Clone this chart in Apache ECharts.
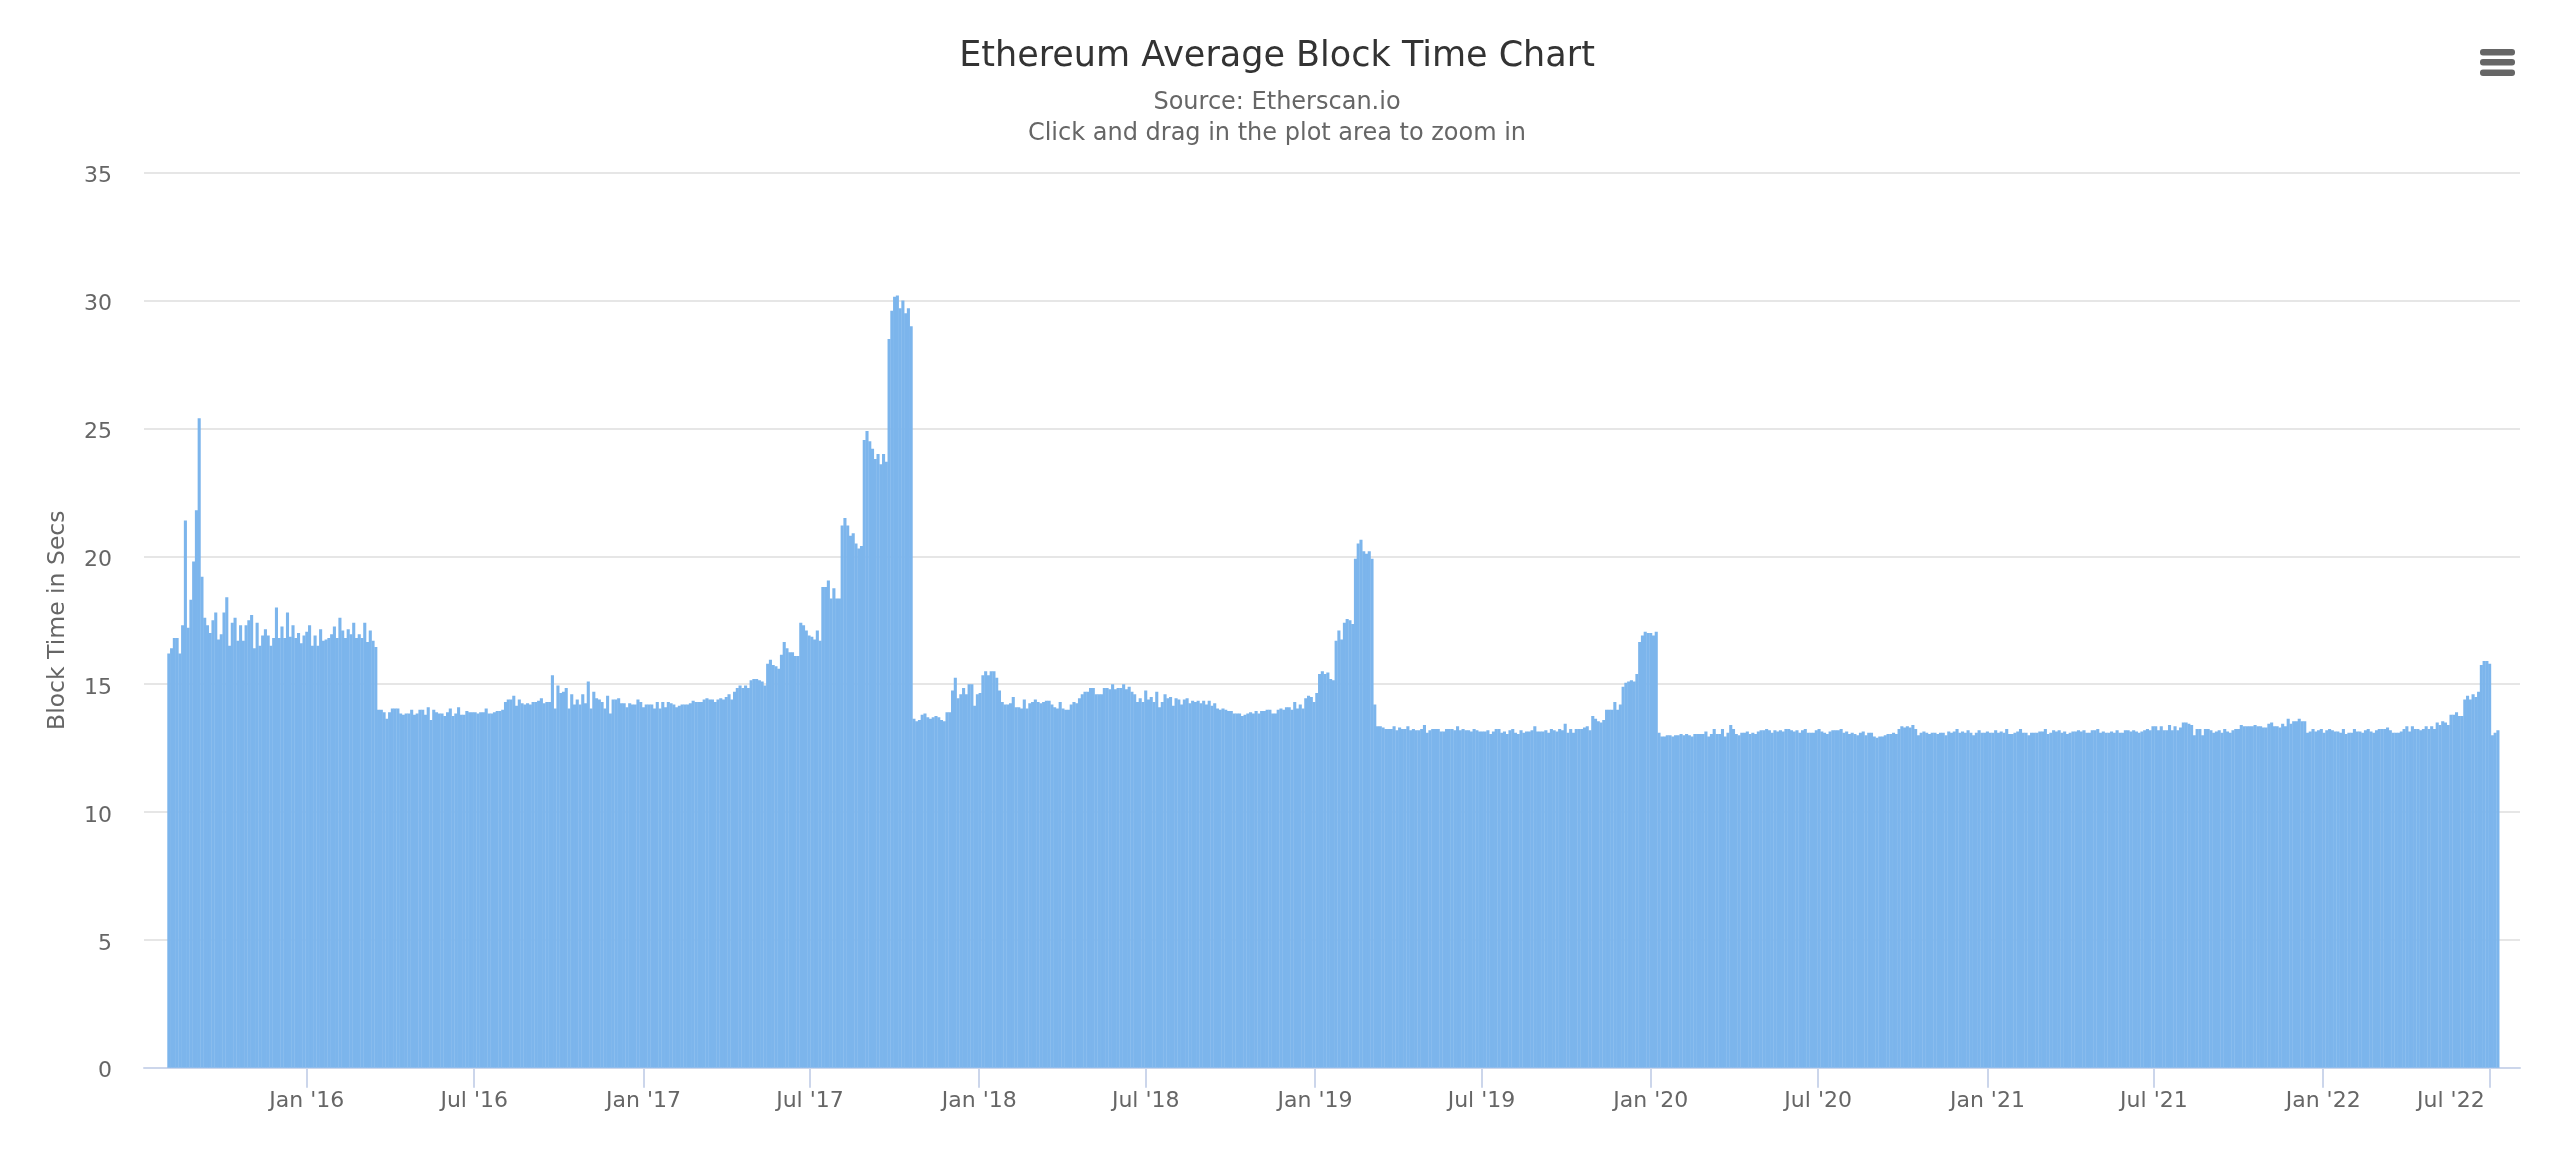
<!DOCTYPE html>
<html lang="en">

<head>
    <meta charset="UTF-8" />
    <title>Ethereum Average Block Time Chart</title>
    <script src="https://cdn.jsdelivr.net/npm/echarts@6/dist/echarts.min.js"></script>
    <style>
        body { margin: 0; background: #fff; }
    </style>
</head>

<body>
    <div id="main" style="width: 2560px; height: 1174px;"></div>

    <script>
        // block time in secs, one value every 3 days from launch
        const launch2015 = [
            16.2, 16.4, 16.8, 16.8, 16.2, 17.3, 21.4, 17.2, 18.3, 19.8, 21.8, 25.4, 19.2, 17.6,
            17.3, 17.0, 17.5, 17.8, 16.75, 16.95, 17.8, 18.4, 16.5, 17.4, 17.6, 16.7, 17.3, 16.7, 17.3, 17.5,
            17.7, 16.4, 17.4, 16.5, 16.9, 17.15, 16.9, 16.5, 16.8, 18.0, 16.8, 17.25, 16.8, 17.8, 16.85,
            17.3, 16.8, 17.0, 16.6, 16.9, 17.05, 17.3, 16.5, 16.9, 16.5, 17.15, 16.7, 16.75, 16.8, 16.95,
            17.25, 16.8, 17.6, 17.1, 16.8, 17.15, 16.95, 17.4, 16.8, 16.95, 16.8, 17.4, 16.65, 17.1, 16.7, 16.45
        ];
        const plateau2016 = [
            14.0, 14.0, 13.9, 13.65, 13.9, 14.05, 14.05, 14.05, 13.85, 13.8, 13.85, 13.85, 14.0, 13.8, 13.85,
            14.0, 14.0, 13.8, 14.1, 13.6, 14.0, 13.9, 13.85, 13.85, 13.75, 13.9, 14.05, 13.75, 13.85, 14.1,
            13.8, 13.8, 13.95, 13.9, 13.9, 13.9, 13.85, 13.9, 13.9, 14.05, 13.85, 13.85, 13.9, 13.95, 13.95, 14.0, 14.3,
            14.4, 14.4, 14.55, 14.15, 14.4, 14.25, 14.2, 14.25, 14.2, 14.3, 14.3, 14.35, 14.45, 14.25, 14.3,
            14.3, 15.35, 14.05, 14.95, 14.65, 14.7, 14.85, 14.05, 14.6, 14.2, 14.4, 14.2, 14.6, 14.25, 15.1,
            14.05, 14.7, 14.45, 14.4, 14.3, 14.05, 14.55, 13.85, 14.4, 14.4, 14.45, 14.25, 14.25, 14.1, 14.25,
            14.2, 14.2, 14.4, 14.3, 14.1, 14.2, 14.2, 14.2, 14.05, 14.3, 14.05, 14.3, 14.1, 14.3, 14.25,
            14.2, 14.1, 14.15, 14.2, 14.2, 14.2, 14.25, 14.35, 14.3, 14.3, 14.3, 14.4, 14.45, 14.4, 14.4, 14.3,
            14.4, 14.45, 14.4, 14.5, 14.6, 14.4, 14.7, 14.85, 14.95, 14.85, 14.95, 14.85, 15.15, 15.2, 15.2,
            15.15, 15.1, 14.95, 15.8, 15.95, 15.75, 15.7, 15.6, 16.15, 16.65, 16.4, 16.25, 16.25, 16.1, 16.1,
            17.4, 17.3, 17.1, 16.9, 16.85, 16.75, 17.1, 16.7
        ];
        const iceAge2017 = [
            18.8, 18.8, 19.05, 18.35, 18.75, 18.35, 18.35,
            21.2, 21.5, 21.2, 20.8, 20.9, 20.5, 20.3, 20.4,
            24.55, 24.9, 24.5, 24.2, 23.8, 24.0, 23.6, 24.0, 23.7,
            28.5, 29.6, 30.15, 30.2, 29.7, 30.0, 29.5, 29.7, 29.0
        ];
        const afterByzantium = [
            13.65, 13.55, 13.6, 13.8, 13.85, 13.7, 13.65, 13.7, 13.75,
            13.7, 13.6, 13.55, 13.9, 13.9, 14.75, 15.25, 14.45, 14.6,
            14.85, 14.6, 15.0, 15.0, 14.15, 14.6, 14.65, 15.35, 15.5, 15.35,
            15.5, 15.5, 15.25, 14.75, 14.3, 14.2, 14.2, 14.25, 14.5, 14.1,
            14.1, 14.05, 14.4, 14.05, 14.25, 14.3, 14.4, 14.3, 14.25,
            14.3, 14.35, 14.35, 14.2, 14.1, 14.05, 14.3, 14.05, 14.0,
            14.0, 14.2, 14.3, 14.25, 14.45, 14.6, 14.7, 14.7, 14.85, 14.85,
            14.6, 14.6, 14.6, 14.85, 14.85, 14.8, 15.0, 14.8, 14.85, 14.85,
            15.0, 14.8, 14.9, 14.7, 14.6, 14.3, 14.45, 14.3, 14.75, 14.4,
            14.5, 14.3, 14.7, 14.1, 14.3, 14.6, 14.45, 14.5, 14.15,
            14.45, 14.4, 14.2, 14.4, 14.45, 14.25, 14.35, 14.3, 14.35, 14.25, 14.35,
            14.2, 14.35, 14.15, 14.25, 14.05, 14.0, 14.05, 14.0, 13.95,
            13.95, 13.85, 13.85, 13.85, 13.75, 13.8, 13.85, 13.9, 13.85,
            13.95, 13.85, 13.95, 13.95, 14.0, 14.0, 13.85, 13.85, 14.0, 14.05,
            14.0, 14.1, 14.1, 14.0, 14.3, 14.05, 14.2, 14.05
        ];
        const rampEarly2019 = [
            14.45, 14.55, 14.5, 14.3, 14.65, 15.4, 15.5, 15.4, 15.45, 15.2, 15.15,
            16.7, 17.1, 16.75, 17.4, 17.55, 17.5, 17.35,
            19.9, 20.5, 20.65, 20.2, 20.1, 20.2, 19.9
        ];
        const afterConstantinople = [
            14.2, 13.35, 13.35, 13.3, 13.25, 13.25, 13.25, 13.35, 13.2, 13.3, 13.25, 13.25, 13.35, 13.2, 13.25,
            13.2, 13.2, 13.25, 13.4, 13.1, 13.2, 13.25, 13.25, 13.25, 13.15, 13.15, 13.25, 13.25, 13.25, 13.2,
            13.35, 13.2, 13.25, 13.2, 13.2, 13.15, 13.25, 13.2, 13.15, 13.15, 13.15, 13.2, 13.05, 13.15, 13.25,
            13.25, 13.1, 13.15, 13.05, 13.2, 13.25, 13.1, 13.05, 13.2, 13.1, 13.15, 13.15, 13.2, 13.35, 13.15,
            13.15, 13.15, 13.2, 13.1, 13.25, 13.2, 13.15, 13.25, 13.2, 13.45, 13.1, 13.25, 13.1, 13.25, 13.25,
            13.25, 13.3, 13.35, 13.2
        ];
        const rampLate2019 = [
            13.75, 13.65, 13.55, 13.5, 13.6, 14.0, 14.0, 14.0, 14.3, 14.0, 14.2, 14.9, 15.05, 15.1, 15.15, 15.1,
            15.4, 16.65, 16.9, 17.05, 17.0, 17.0, 16.9, 17.05
        ];
        const year2020 = [
            13.1, 12.95, 12.95, 13.0, 13.0, 12.95, 13.0, 13.0, 13.05, 13.0, 13.05, 13.0, 12.95, 13.05, 13.05, 13.05,
            13.05, 13.15, 12.95, 13.05, 13.25, 13.05, 13.05, 13.25, 12.95, 13.1, 13.4, 13.25, 13.05, 13.0, 13.1,
            13.1, 13.15, 13.05, 13.1, 13.05, 13.15, 13.2, 13.2, 13.25, 13.2, 13.1, 13.2, 13.15, 13.2, 13.15,
            13.25, 13.25, 13.2, 13.15, 13.2, 13.1, 13.2, 13.25, 13.1, 13.1, 13.1, 13.2, 13.25, 13.15, 13.1,
            13.05, 13.15, 13.2, 13.2, 13.2, 13.25, 13.1, 13.15, 13.05, 13.1, 13.05, 13.0, 13.1, 13.15, 13.0,
            13.1, 13.1, 12.95, 12.9, 12.95, 12.95, 13.0, 13.05, 13.05, 13.1, 13.05, 13.25, 13.35, 13.3, 13.35,
            13.3, 13.4, 13.25, 13.0, 13.1, 13.15, 13.1, 13.05, 13.1, 13.1, 13.05, 13.1, 13.1, 13.0, 13.15,
            13.1, 13.15, 13.25, 13.1, 13.15, 13.1, 13.2, 13.1, 13.0, 13.1, 13.2, 13.1, 13.1, 13.15, 13.1,
            13.1, 13.2, 13.1, 13.15, 13.1, 13.25, 13.05, 13.05, 13.1, 13.15, 13.25
        ];
        const year2021 = [
            13.1, 13.1, 13.0, 13.1, 13.1, 13.1, 13.15, 13.15, 13.25, 13.05, 13.1, 13.2, 13.15, 13.2, 13.1,
            13.15, 13.05, 13.1, 13.15, 13.15, 13.2, 13.15, 13.2, 13.1, 13.1, 13.2, 13.2, 13.25, 13.1, 13.15, 13.1, 13.1, 13.15,
            13.1, 13.2, 13.1, 13.1, 13.2, 13.2, 13.15, 13.2, 13.15, 13.1, 13.15, 13.2, 13.25, 13.2, 13.35,
            13.35, 13.2, 13.35, 13.2, 13.2, 13.4, 13.2, 13.35, 13.2, 13.3, 13.5, 13.5, 13.45, 13.4, 13.0,
            13.25, 13.25, 13.0, 13.25, 13.25, 13.2, 13.1, 13.15, 13.2, 13.1, 13.25, 13.15, 13.1, 13.2, 13.25,
            13.25, 13.4, 13.35, 13.35, 13.35, 13.35, 13.4, 13.35, 13.35, 13.3, 13.3, 13.45, 13.5, 13.35, 13.35, 13.3,
            13.45, 13.35, 13.65, 13.45, 13.55, 13.55, 13.65, 13.55, 13.55, 13.1, 13.15, 13.25, 13.15, 13.2, 13.25,
            13.1, 13.2, 13.25, 13.2, 13.15, 13.15, 13.1
        ];
        const year2022 = [
            13.25, 13.05, 13.1, 13.1, 13.25, 13.15, 13.15, 13.1, 13.2, 13.25, 13.15, 13.1, 13.2,
            13.25, 13.25, 13.25, 13.3, 13.2, 13.1, 13.1, 13.1, 13.15, 13.25, 13.35, 13.15, 13.35, 13.25, 13.25,
            13.2, 13.25, 13.35, 13.25, 13.35, 13.25, 13.5, 13.4, 13.55, 13.5, 13.4, 13.8, 13.8, 13.9, 13.75,
            13.75, 14.4, 14.55, 14.4, 14.6, 14.5, 14.7, 15.75, 15.9, 15.9, 15.8, 13.0, 13.1, 13.2
        ];

        const tickDates = [
            '2016-01-01', '2016-07-01', '2017-01-01', '2017-07-01', '2018-01-01', '2018-07-01', '2019-01-01',
            '2019-07-01', '2020-01-01', '2020-07-01', '2021-01-01', '2021-07-01', '2022-01-01', '2022-07-01'
        ];
        const tickLabels = [
            "Jan '16", "Jul '16", "Jan '17", "Jul '17", "Jan '18", "Jul '18", "Jan '19",
            "Jul '19", "Jan '20", "Jul '20", "Jan '21", "Jul '21", "Jan '22", "Jul '22"
        ];

        const DAY = 86400000;
        const firstDay = Date.parse('2015-08-04');
        const blockTimes = [].concat(launch2015, plateau2016, iceAge2017, afterByzantium, rampEarly2019,
            afterConstantinople, rampLate2019, year2020, year2021, year2022);
        const tickValues = tickDates.map(d => Date.parse(d));
        const font = '"DejaVu Sans", sans-serif';

        const myChart = echarts.init(document.getElementById("main"));
        myChart.setOption({
            animation: false,
            backgroundColor: '#ffffff',
            title: {
                text: 'Ethereum Average Block Time Chart',
                subtext: 'Source: Etherscan.io\nClick and drag in the plot area to zoom in',
                left: 1272,
                top: 34,
                textAlign: 'center',
                itemGap: 13,
                textStyle: { color: '#333333', fontFamily: font, fontWeight: 'normal', fontSize: 35 },
                subtextStyle: { color: '#666666', fontFamily: font, fontSize: 24, lineHeight: 31 }
            },
            grid: { left: 144, right: 40, top: 172.7, bottom: 106.3 },
            xAxis: {
                // plain value axis holding timestamps, customValues breaks on a time axis
                type: 'value',
                min: Date.parse('2015-07-08'),
                max: Date.parse('2022-08-03'),
                splitLine: { show: false },
                axisLine: { lineStyle: { color: '#ccd6eb', width: 2 } },
                axisTick: {
                    length: 20,
                    customValues: tickValues,
                    lineStyle: { color: '#ccd6eb', width: 2 }
                },
                axisLabel: {
                    customValues: tickValues,
                    color: '#666666',
                    fontFamily: font,
                    fontSize: 22,
                    margin: 23,
                    hideOverlap: false,
                    alignMaxLabel: 'right',
                    formatter: value => {
                        const label = tickLabels[tickValues.indexOf(value)];
                        return value === tickValues[tickValues.length - 1] ? '{last|' + label + '}' : label;
                    },
                    rich: {
                        last: { color: '#666666', fontFamily: font, fontSize: 22, padding: [0, 5, 0, 0] }
                    }
                }
            },
            yAxis: {
                type: 'value',
                min: 0,
                max: 35,
                interval: 5,
                name: 'Block Time in Secs',
                nameLocation: 'middle',
                nameGap: 74,
                nameTextStyle: { color: '#666666', fontFamily: font, fontSize: 23.5 },
                axisLine: { show: false },
                axisTick: { show: false },
                splitLine: { lineStyle: { color: '#e6e6e6', width: 2 } },
                axisLabel: { color: '#666666', fontFamily: font, fontSize: 22, margin: 32, verticalAlign: 'top', lineHeight: 8 }
            },
            series: [{
                name: 'Block Time',
                type: 'bar',
                barWidth: '112%',
                barCategoryGap: 0,
                itemStyle: { color: '#7cb5ec' },
                data: blockTimes.map((v, i) => [firstDay + i * 3 * DAY, v])
            }],
            graphic: [49, 59, 69.5].map(y => ({
                type: 'rect',
                shape: { x: 2480, y: y, width: 35, height: 6.5, r: 3 },
                style: { fill: '#666666' }
            }))
        });
    </script>
</body>

</html>
